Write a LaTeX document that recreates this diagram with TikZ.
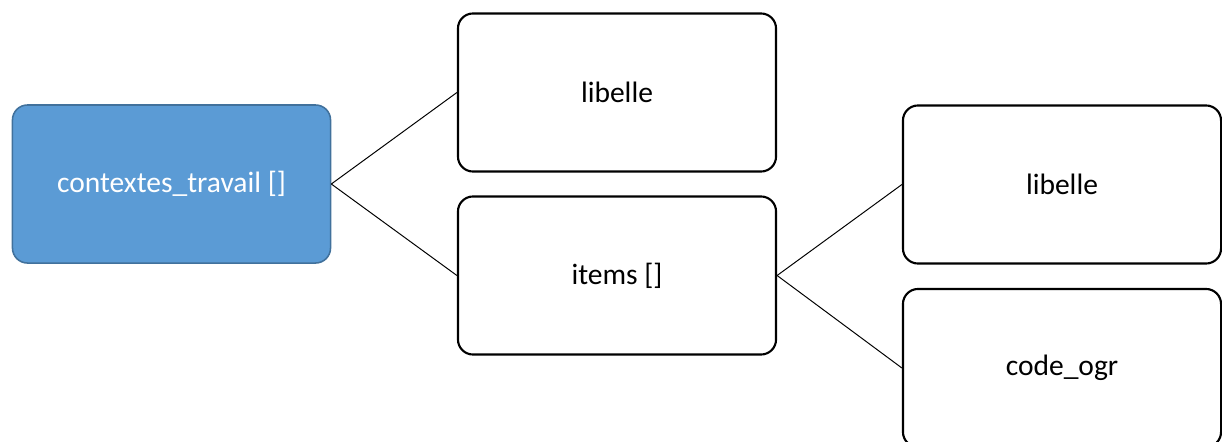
\documentclass[tikz,border=0pt]{standalone}
\usepackage{fontspec}
\setmainfont{Carlito}
\definecolor{rootfill}{HTML}{5B9BD5}
\definecolor{rootdraw}{HTML}{41719C}
\tikzset{
  field/.style={
    draw=black,
    line width=1.5pt,
    fill=white,
    rounded corners=0.375cm,
    minimum width=7.95cm,
    minimum height=3.95cm,
    font=\fontsize{21}{25}\selectfont,
  },
  root/.style={
    field,
    draw=rootdraw,
    line width=1.1pt,
    fill=rootfill,
    text=white,
  },
  link/.style={line width=0.7pt},
}

\begin{document}
\begin{tikzpicture}[x=0.025cm,y=-0.025cm]
      \clip (0,0) rectangle (1222,441);
      \useasboundingbox (0,0) rectangle (1222,441);

      % Nodes
      \node[root] (contextes) at (171.5,184) {contextes\_travail []};
      \node[field] (libelle) at (617,92.5) {libelle};
      \node[field] (items) at (617,275.5) {items []};
      \node[field] (itemlibelle) at (1062,184.5) {libelle};
      \node[field] (codeogr) at (1062,368) {code\_ogr};

      % Links
      \draw[link] (contextes.east) -- (libelle.west);
      \draw[link] (contextes.east) -- (items.west);
      \draw[link] (items.east) -- (itemlibelle.west);
      \draw[link] (items.east) -- (codeogr.west);
    \end{tikzpicture}
\end{document}
